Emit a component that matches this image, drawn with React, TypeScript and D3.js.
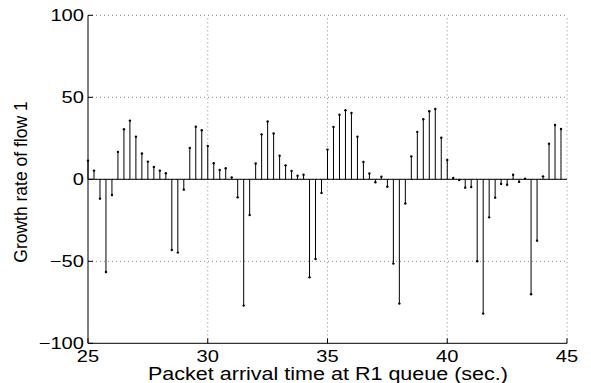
import React, { useEffect, useRef } from "react";
import * as d3 from "d3";

// sample times (sec.)
const times = [
  25.0, 25.25, 25.5, 25.75, 26.0, 26.25, 26.5, 26.75, 27.0, 27.25, 27.5, 27.75,
  28.0, 28.25, 28.5, 28.75, 29.0, 29.25, 29.5, 29.75, 30.0, 30.25, 30.5, 30.75,
  31.0, 31.25, 31.5, 31.75, 32.0, 32.25, 32.5, 32.75, 33.0, 33.25, 33.5, 33.75,
  34.0, 34.25, 34.5, 34.75, 35.0, 35.25, 35.5, 35.75, 36.0, 36.25, 36.5, 36.75,
  37.0, 37.25, 37.5, 37.75, 38.0, 38.25, 38.5, 38.75, 39.0, 39.25, 39.5, 39.75,
  40.0, 40.25, 40.5, 40.75, 41.0, 41.25, 41.5, 41.75, 42.0, 42.25, 42.5, 42.75,
  43.0, 43.25, 43.5, 43.75, 44.0, 44.25, 44.5, 44.75,
];

// growth rate of flow 1
const growth = [
  11.4, 5.3, -11.8, -56.5, -9.6, 16.7, 30.5, 35.8, 26.0, 15.7, 10.8, 7.5,
  5.3, 3.7, -43.1, -44.7, -6.3, 19.1, 32.1, 29.9, 20.3, 9.8, 5.7, 6.7,
  1.2, -11.0, -77.0, -21.8, 9.6, 27.4, 35.2, 28.0, 14.4, 8.5, 5.1, 2.2,
  2.8, -59.8, -48.6, -8.3, 18.1, 31.9, 39.4, 42.1, 40.4, 26.0, 10.6, 3.5,
  -1.8, 1.6, -4.5, -51.4, -75.8, -14.8, 14.0, 28.9, 36.6, 41.5, 42.9, 25.4,
  11.8, 0.8, -0.4, -5.1, -4.7, -50.0, -81.9, -23.2, -11.2, -2.8, -3.3, 2.8,
  -1.6, 0.4, -70.1, -37.4, 1.8, 21.7, 33.1, 30.7,
];

const xTicks = [25, 30, 35, 40, 45];
const yTicks = [-100, -50, 0, 50, 100];

const W = 591;
const H = 383;
const font = "'Liberation Sans', Arial, Helvetica, sans-serif";
const stretch = 1.22;

export default function App() {
  const ref = useRef<SVGSVGElement>(null);

  useEffect(() => {
    const svg = d3.select(ref.current);
    svg.selectAll("*").remove();

    const x = d3.scaleLinear().domain([25, 45]).range([88, 567]);
    const y = d3.scaleLinear().domain([-100, 100]).range([343.3, 15.3]);

    // dotted grid
    const grid = svg.append("g").attr("stroke", "#8c8c8c").attr("stroke-dasharray", "1,3");
    grid
      .selectAll("line.gx")
      .data(xTicks.slice(1))
      .join("line")
      .attr("x1", (d) => x(d))
      .attr("x2", (d) => x(d))
      .attr("y1", y(-100))
      .attr("y2", y(100));
    grid
      .selectAll("line.gy")
      .data(yTicks.slice(1))
      .join("line")
      .attr("x1", x(25))
      .attr("x2", x(45))
      .attr("y1", (d) => y(d))
      .attr("y2", (d) => y(d));

    // baseline
    svg
      .append("line")
      .attr("x1", x(25))
      .attr("x2", x(45))
      .attr("y1", y(0))
      .attr("y2", y(0))
      .attr("stroke", "#000");

    // stems
    const data = times.map((t, i) => ({ t, v: growth[i] }));
    const stems = svg.append("g");
    stems
      .selectAll("line")
      .data(data)
      .join("line")
      .attr("x1", (d) => x(d.t))
      .attr("x2", (d) => x(d.t))
      .attr("y1", y(0))
      .attr("y2", (d) => y(d.v))
      .attr("stroke", "#000")
      .attr("stroke-width", 1);
    stems
      .selectAll("circle")
      .data(data)
      .join("circle")
      .attr("cx", (d) => x(d.t))
      .attr("cy", (d) => y(d.v))
      .attr("r", 1.2)
      .attr("fill", "#000");

    // axes lines
    svg
      .append("path")
      .attr("d", `M${x(25)},${y(100)}V${y(-100)}H${x(45)}`)
      .attr("fill", "none")
      .attr("stroke", "#000");

    // inward ticks
    svg
      .append("g")
      .selectAll("line")
      .data(yTicks)
      .join("line")
      .attr("x1", x(25))
      .attr("x2", x(25) + 5)
      .attr("y1", (d) => y(d))
      .attr("y2", (d) => y(d))
      .attr("stroke", "#000");
    svg
      .append("g")
      .selectAll("line")
      .data(xTicks)
      .join("line")
      .attr("x1", (d) => x(d))
      .attr("x2", (d) => x(d))
      .attr("y1", y(-100))
      .attr("y2", y(-100) - 5)
      .attr("stroke", "#000");

    // tick labels
    svg
      .append("g")
      .selectAll("text")
      .data(yTicks)
      .join("text")
      .attr("transform", (d) => `translate(84,${y(d) + 6}) scale(${stretch},1)`)
      .attr("text-anchor", "end")
      .style("font", `16.5px ${font}`)
      .text((d) => (d < 0 ? "\u2212" + Math.abs(d) : String(d)));
    svg
      .append("g")
      .selectAll("text")
      .data(xTicks)
      .join("text")
      .attr("transform", (d) => `translate(${x(d)},362) scale(${stretch},1)`)
      .attr("text-anchor", "middle")
      .style("font", `16.5px ${font}`)
      .text((d) => String(d));

    // axis labels
    svg
      .append("text")
      .attr("x", 328)
      .attr("y", 380)
      .attr("text-anchor", "middle")
      .attr("textLength", 360)
      .attr("lengthAdjust", "spacingAndGlyphs")
      .style("font", `17.5px ${font}`)
      .text("Packet arrival time at R1 queue (sec.)");
    svg
      .append("text")
      .attr("transform", "translate(27,182) rotate(-90)")
      .attr("text-anchor", "middle")
      .style("font", `17.5px ${font}`)
      .text("Growth rate of flow 1");
  }, []);

  return (
    <svg
      ref={ref}
      width={W}
      height={H}
      style={{ position: "absolute", left: 0, top: 0, background: "#fff" }}
    />
  );
}
